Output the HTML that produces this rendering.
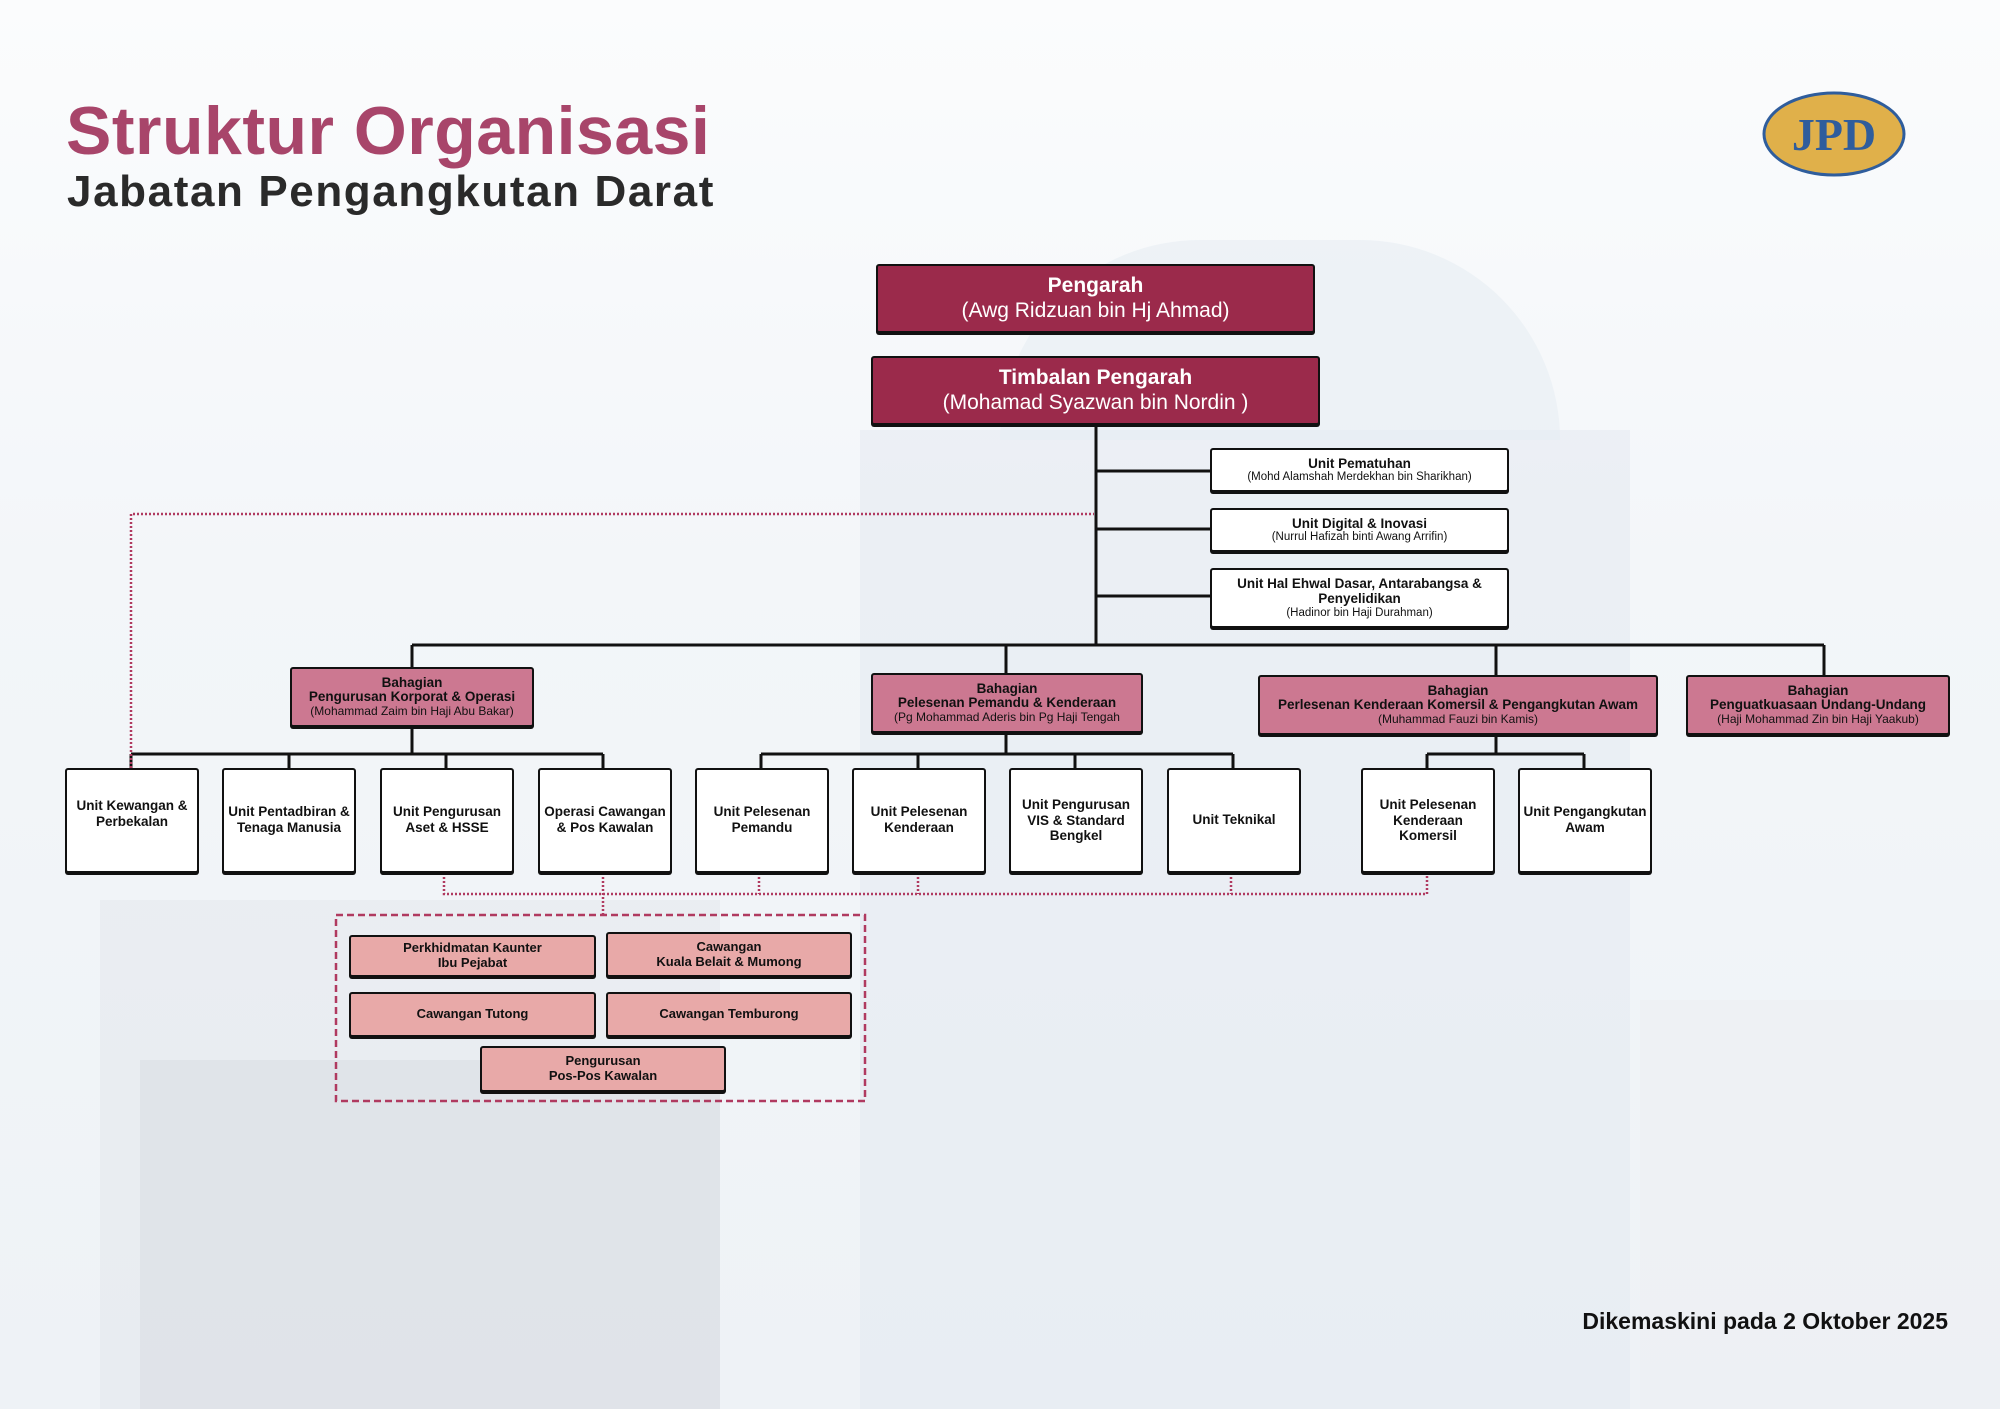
<!DOCTYPE html>
<html><head><meta charset="utf-8">
<style>
*{margin:0;padding:0;box-sizing:border-box}
body{width:2000px;height:1409px;position:relative;overflow:hidden;font-family:"Liberation Sans",sans-serif;background:linear-gradient(180deg,#fbfcfd 0%,#f3f6f9 40%,#eef2f6 100%)}
.bx{position:absolute;display:flex;flex-direction:column;justify-content:center;align-items:center;text-align:center;border:2.5px solid #111;border-radius:3px;box-shadow:0 2px 0 #111;line-height:1.15}
.top{background:#9b2a4b;color:#fff;font-size:21px}
.top b{font-size:21px}
.wb{background:#fff;color:#111;font-size:13px}
.wb b{font-size:13.5px}
.bh{background:#cc7891;color:#111;font-size:12px;line-height:1.1}
.bh b{font-size:13.5px}
.un{background:#fff;color:#111;font-size:13.5px;font-weight:bold;justify-content:flex-start;padding-top:28px}
.pk{background:#e8a9a8;color:#111;font-size:13px;font-weight:bold}
.bg{position:absolute;background:#dfe7ef;opacity:.55}
</style></head><body>
<div class="bg" style="left:860px;top:430px;width:770px;height:979px;background:#e3eaf1"></div>
<div class="bg" style="left:1000px;top:240px;width:560px;height:200px;border-radius:300px 300px 0 0;background:#e6edf3"></div>
<div class="bg" style="left:100px;top:900px;width:620px;height:509px;background:#e4e8ec"></div>
<div class="bg" style="left:140px;top:1060px;width:580px;height:349px;background:#d9dde2"></div>
<div class="bg" style="left:1640px;top:1000px;width:360px;height:409px;background:#eceff2"></div>

<div style="position:absolute;left:66px;top:92px;font-size:68px;font-weight:bold;color:#a8456a;letter-spacing:0.5px">Struktur Organisasi</div>
<div style="position:absolute;left:67px;top:167px;font-size:44px;font-weight:bold;color:#2a2a2a;letter-spacing:1.6px">Jabatan Pengangkutan Darat</div>

<svg style="position:absolute;left:1760px;top:90px" width="150" height="90">
<ellipse cx="74" cy="44" rx="70" ry="41" fill="#e0b04a" stroke="#2f5d9c" stroke-width="3"/>
<text x="74" y="60" text-anchor="middle" font-family="Liberation Serif,serif" font-weight="bold" font-size="46" fill="#2f5d9c">JPD</text>
</svg>

<svg style="position:absolute;left:0;top:0" width="2000" height="1409">
<g stroke="#111" stroke-width="3" fill="none">
<path d="M1096 425V645"/>
<path d="M1096 471H1210M1096 529H1210M1096 596H1210"/>
<path d="M412 645H1824M412 645V667M1006 645V673M1496 645V675M1824 645V675"/>
<path d="M131 754H603M131 754V768M289 754V768M446 754V768M603 754V768M412 727V754"/>
<path d="M761 754H1233M761 754V768M918 754V768M1075 754V768M1233 754V768M1006 733V754"/>
<path d="M1427 754H1584M1427 754V768M1584 754V768M1496 735V754"/>
</g>
<g stroke="#b03a60" stroke-width="2.5" fill="none" stroke-dasharray="2 2">
<path d="M131 768V514H1094"/>
<path d="M444 873V894H1427V873M759 873V894M918 873V894M1231 873V894M603 873V915"/>
</g>
<rect x="336" y="915" width="529" height="186" fill="none" stroke="#b03a60" stroke-width="2.5" stroke-dasharray="7 4"/>
</svg>

<div class="bx top" style="left:876px;top:264px;width:439px;height:69px"><b>Pengarah</b><span>(Awg Ridzuan bin Hj Ahmad)</span></div>
<div class="bx top" style="left:871px;top:356px;width:449px;height:69px"><b>Timbalan Pengarah</b><span>(Mohamad Syazwan bin Nordin )</span></div>

<div class="bx wb" style="left:1210px;top:448px;width:299px;height:44px;font-size:11.5px"><b>Unit Pematuhan</b><span>(Mohd Alamshah Merdekhan bin Sharikhan)</span></div>
<div class="bx wb" style="left:1210px;top:508px;width:299px;height:44px;font-size:11.5px"><b>Unit Digital &amp; Inovasi</b><span>(Nurrul Hafizah binti Awang Arrifin)</span></div>
<div class="bx wb" style="left:1210px;top:568px;width:299px;height:60px;font-size:11.5px"><b>Unit Hal Ehwal Dasar, Antarabangsa &amp;<br>Penyelidikan</b><span>(Hadinor bin Haji Durahman)</span></div>

<div class="bx bh" style="left:290px;top:667px;width:244px;height:60px"><b>Bahagian<br>Pengurusan Korporat &amp; Operasi</b><span>(Mohammad Zaim bin Haji Abu Bakar)</span></div>
<div class="bx bh" style="left:871px;top:673px;width:272px;height:60px"><b>Bahagian<br>Pelesenan Pemandu &amp; Kenderaan</b><span>(Pg Mohammad Aderis bin Pg Haji Tengah</span></div>
<div class="bx bh" style="left:1258px;top:675px;width:400px;height:60px"><b>Bahagian<br>Perlesenan Kenderaan Komersil &amp; Pengangkutan Awam</b><span>(Muhammad Fauzi bin Kamis)</span></div>
<div class="bx bh" style="left:1686px;top:675px;width:264px;height:60px"><b>Bahagian<br>Penguatkuasaan Undang-Undang</b><span>(Haji Mohammad Zin bin Haji Yaakub)</span></div>

<div class="bx un" style="left:65px;top:768px;width:134px;height:105px;padding-top:28px">Unit Kewangan &amp;<br>Perbekalan</div>
<div class="bx un" style="left:222px;top:768px;width:134px;height:105px;padding-top:34px">Unit Pentadbiran &amp;<br>Tenaga Manusia</div>
<div class="bx un" style="left:380px;top:768px;width:134px;height:105px;padding-top:34px">Unit Pengurusan<br>Aset &amp; HSSE</div>
<div class="bx un" style="left:538px;top:768px;width:134px;height:105px;padding-top:34px">Operasi Cawangan<br>&amp; Pos Kawalan</div>
<div class="bx un" style="left:695px;top:768px;width:134px;height:105px;padding-top:34px">Unit Pelesenan<br>Pemandu</div>
<div class="bx un" style="left:852px;top:768px;width:134px;height:105px;padding-top:34px">Unit Pelesenan<br>Kenderaan</div>
<div class="bx un" style="left:1009px;top:768px;width:134px;height:105px;padding-top:27px">Unit Pengurusan<br>VIS &amp; Standard<br>Bengkel</div>
<div class="bx un" style="left:1167px;top:768px;width:134px;height:105px;padding-top:42px">Unit Teknikal</div>
<div class="bx un" style="left:1361px;top:768px;width:134px;height:105px;padding-top:27px">Unit Pelesenan<br>Kenderaan<br>Komersil</div>
<div class="bx un" style="left:1518px;top:768px;width:134px;height:105px;padding-top:34px">Unit Pengangkutan<br>Awam</div>

<div class="bx pk" style="left:349px;top:935px;width:247px;height:42px">Perkhidmatan Kaunter<br>Ibu Pejabat</div>
<div class="bx pk" style="left:606px;top:932px;width:246px;height:45px">Cawangan<br>Kuala Belait &amp; Mumong</div>
<div class="bx pk" style="left:349px;top:992px;width:247px;height:45px">Cawangan Tutong</div>
<div class="bx pk" style="left:606px;top:992px;width:246px;height:45px">Cawangan Temburong</div>
<div class="bx pk" style="left:480px;top:1046px;width:246px;height:46px">Pengurusan<br>Pos-Pos Kawalan</div>

<div style="position:absolute;right:52px;top:1308px;font-size:23px;font-weight:bold;color:#111">Dikemaskini pada 2 Oktober 2025</div>
</body></html>
